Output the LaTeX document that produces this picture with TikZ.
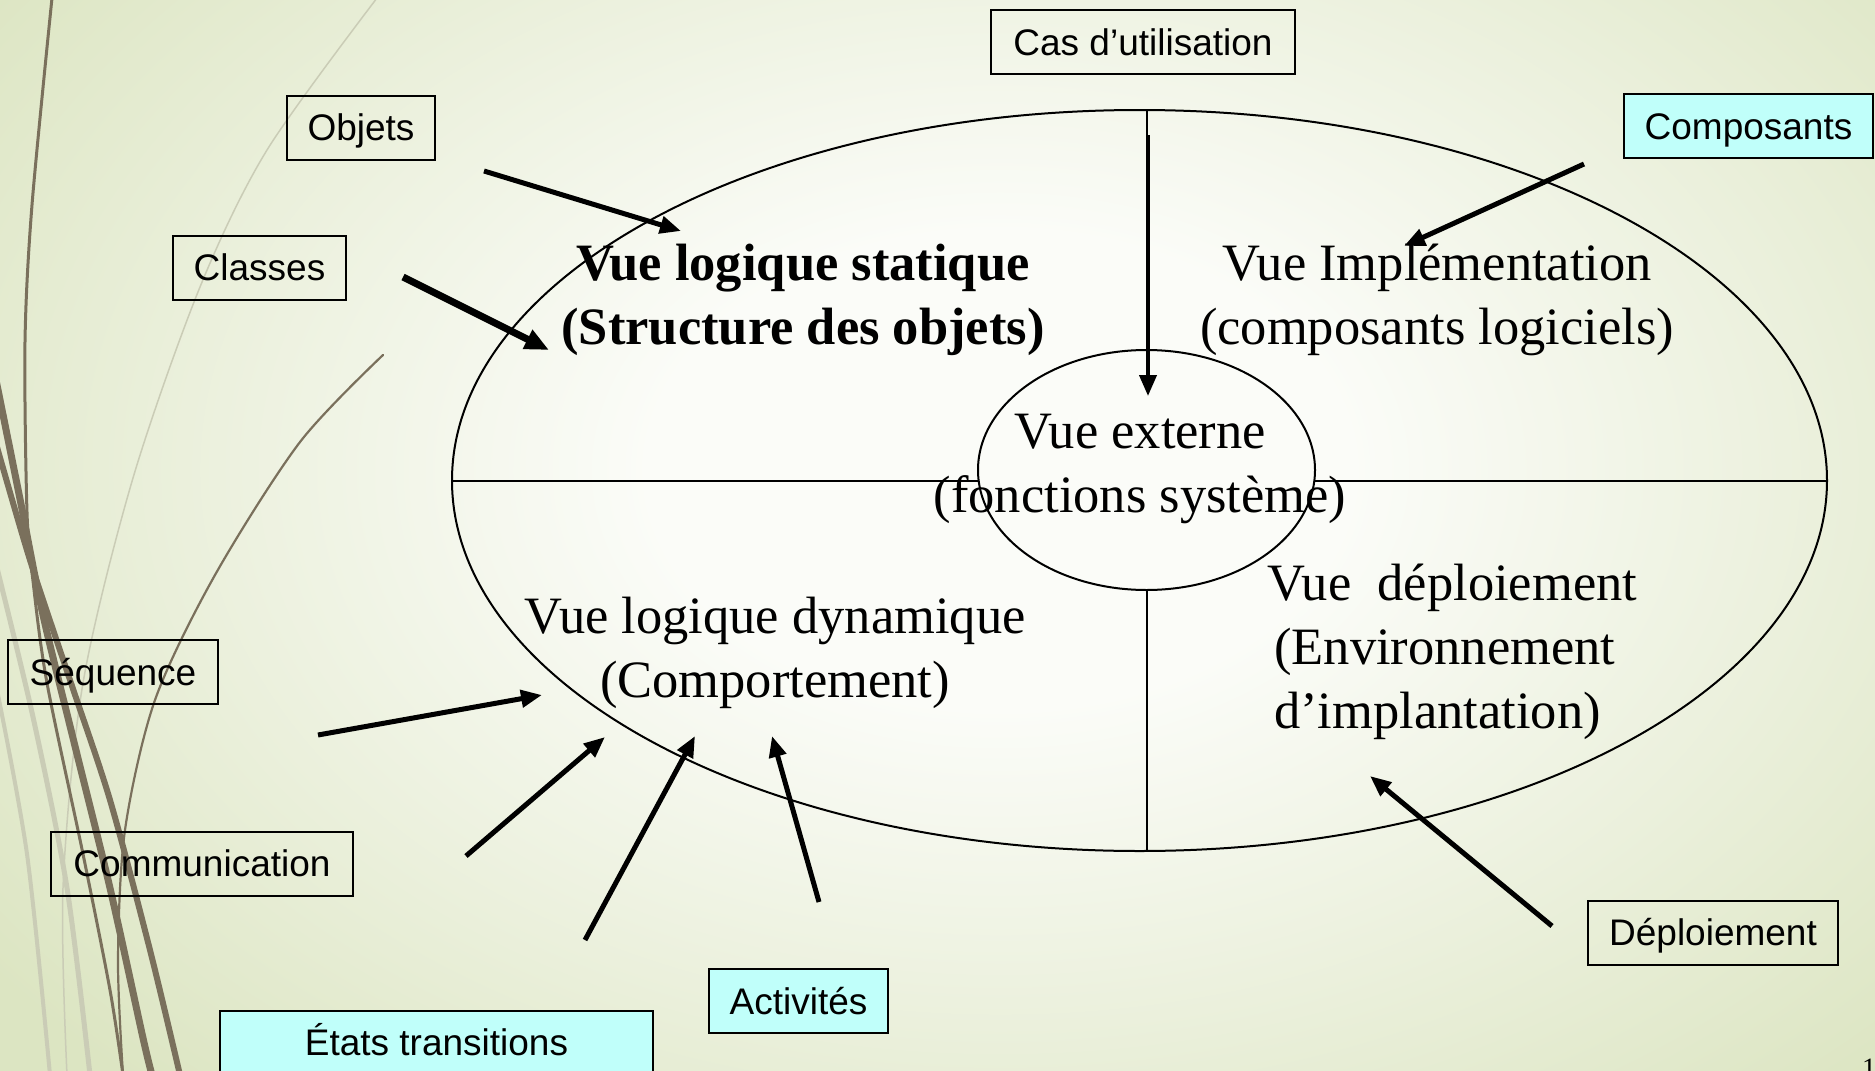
\documentclass[tikz,border=0pt]{standalone}
\usepackage{fontspec}
\setmainfont{Liberation Serif}
\newfontfamily\labelfont{Liberation Sans}
\usetikzlibrary{arrows.meta,shapes.geometric}
\definecolor{bge}{RGB}{220,229,194}
\definecolor{bgc}{RGB}{251,252,248}
\definecolor{boxcyan}{RGB}{192,255,250}
\definecolor{wispdark}{RGB}{122,112,92}
\definecolor{wisplight}{RGB}{202,204,182}
\pgfdeclareradialshading{bgshade}{\pgfpoint{0bp}{0bp}}{color(0bp)=(bgc); color(7bp)=(bgc); color(25bp)=(bge); color(50bp)=(bge)}
\begin{document}
\begin{tikzpicture}[x=1pt,y=-1pt,
  lbl/.style={draw=black,line width=2pt,font=\labelfont\fontsize{37}{44}\selectfont,
    minimum height=64pt,inner xsep=0pt,inner ysep=0pt,outer sep=0pt,text height=30pt,text depth=4pt},
  cyanbox/.style={lbl,fill=boxcyan},
  view/.style={font=\fontsize{52.5}{64}\selectfont,align=center,inner sep=0pt},
  arr/.style={line width=5pt,-{Triangle[length=21pt,width=17pt]}},
  wd/.style={draw=wispdark,line cap=round},
  wl/.style={draw=wisplight,line cap=round},
  frame/.style={draw=black,line width=2pt,ellipse,inner sep=0pt,outer sep=0pt}
]
\useasboundingbox (0,0) rectangle (1875,1071);
\clip (0,0) rectangle (1875,1071);
% background
\fill[bge] (0,0) rectangle (1875,1071);
\shade[shading=bgshade] (1000,470) ellipse [x radius=1250pt, y radius=850pt];
% decorative curves
\draw[wl,line width=5pt] plot[smooth] coordinates {(-5,560) (33,717) (67,888) (90,1075)};
\draw[wl,line width=4pt] plot[smooth] coordinates {(-5,680) (27,854) (50,1075)};
\draw[wl,line width=1.5pt] plot[smooth] coordinates {(377,-2) (267,150) (200,287) (133,478) (83,683) (63,888) (67,1075)};
\draw[wd,line width=3pt] plot[smooth] coordinates {(52,-2) (32,205) (25,342) (27,512) (33,581) (47,683) (83,854) (110,990) (123,1075)};
\draw[wd,line width=7pt] plot[smooth] coordinates {(-5,375) (20,499) (43,615) (73,738) (110,888) (143,1038) (152,1075)};
\draw[wd,line width=6pt] plot[smooth] coordinates {(-5,440) (30,560) (70,680) (110,800) (150,950) (180,1075)};
\draw[wd,line width=2.2pt] plot[smooth] coordinates {(383,355) (300,442) (215,575) (155,700) (125,830) (118,960) (123,1075)};

% main ellipses
\node[frame,minimum width=1375pt,minimum height=741pt] (outer) at (1139.5,480.5) {};
\node[frame,minimum width=337pt,minimum height=240pt] (inner) at (1146.5,470) {};
\draw[line width=2pt] (outer.north -| inner.north) -- (inner.north);
\draw[line width=2pt] (inner.south) -- (inner.south |- outer.south);
\draw[line width=2pt] (outer.west |- 0,481) -- (inner.west |- 0,481);
\draw[line width=2pt] (inner.east |- 0,481) -- (outer.east |- 0,481);

% view texts
\node[view,font=\fontsize{52.5}{64}\selectfont\bfseries] (statique) at (803,300) {Vue logique statique\\(Structure des objets)};
\node[view] (impl) at (1437,300) {Vue Implémentation\\(composants logiciels)};
\node[view] (externe) at (1140,469) {Vue externe\\(fonctions système)};
\node[view] (dyn) at (775,653) {Vue logique dynamique\\(Comportement)};
\node[view,align=left,anchor=west] (depl) at (1267,652) {Vue\ \ déploiement\\\hspace*{7pt}(Environnement\\\hspace*{7pt}d’implantation)};

% label boxes
\node[lbl,minimum width=304pt] (cas) at (1143,42) {Cas d’utilisation};
\node[lbl,minimum width=148pt] (objets) at (361,127.5) {Objets};
\node[cyanbox,minimum width=249pt] (compo) at (1748.5,126) {Composants};
\node[lbl,minimum width=173pt] (classes) at (259.5,267.5) {Classes};
\node[lbl,minimum width=210pt] (seq) at (113,672) {Séquence};
\node[lbl,minimum width=302pt] (comm) at (202,863.5) {Communication};
\node[lbl,minimum width=250pt] (deplbox) at (1713,932.5) {Déploiement};
\node[cyanbox,minimum width=179pt] (activ) at (798.5,1001) {Activités};
\node[cyanbox,minimum width=433pt] (etats) at (436.5,1042.5) {États transitions};

% page number
\node[font=\fontsize{28}{30}\selectfont,anchor=north west,inner sep=0pt] (pg) at (1862,1059) {1};

% arrow end points
\coordinate (aObjS) at (484,171);   \coordinate (aObjE) at (681,231);
\coordinate (aClaS) at (403,277);   \coordinate (aClaE) at (549,350);
\coordinate (aCasS) at (1148,135);  \coordinate (aCasE) at (1148,396);
\coordinate (aComS) at (1584,164);  \coordinate (aComE) at (1404,246);
\coordinate (aSeqS) at (318,735);   \coordinate (aSeqE) at (542,695);
\coordinate (aCmmS) at (466,856);   \coordinate (aCmmE) at (605,737);
\coordinate (aEtaS) at (585,940);   \coordinate (aEtaE) at (695,736);
\coordinate (aActS) at (819,902);   \coordinate (aActE) at (772,736);
\coordinate (aDepS) at (1552,926);  \coordinate (aDepE) at (1370,776);

\draw[arr] (aObjS) -- (aObjE);
\draw[arr,line width=7pt,-{Triangle[length=24pt,width=20pt]}] (aClaS) -- (aClaE);
\draw[arr,line width=4pt] (aCasS) -- (aCasE);
\draw[arr] (aComS) -- (aComE);
\draw[arr] (aSeqS) -- (aSeqE);
\draw[arr] (aCmmS) -- (aCmmE);
\draw[arr] (aEtaS) -- (aEtaE);
\draw[arr] (aActS) -- (aActE);
\draw[arr] (aDepS) -- (aDepE);
\end{tikzpicture}
\end{document}
